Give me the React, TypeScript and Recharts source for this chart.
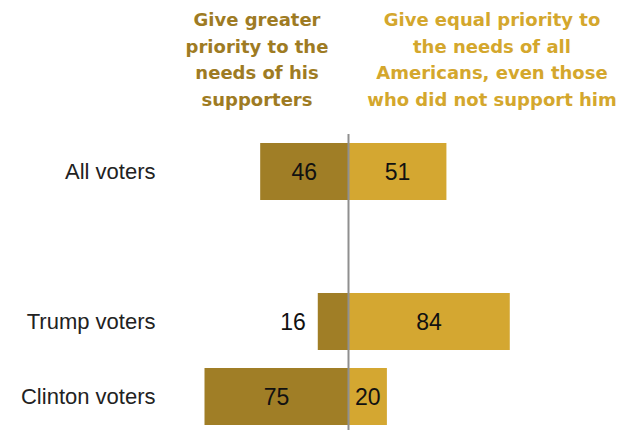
import React from 'react';
import { BarChart, Bar, XAxis, YAxis, ReferenceLine, LabelList } from 'recharts';

// Row labels (empty string = spacer row between "All voters" and the candidate groups)
const groups = ['All voters', '', 'Trump voters', 'Clinton voters'];
// Share saying Trump should give greater priority to his supporters
const greater = [46, null, 16, 75];
// Share saying he should give equal priority to all Americans
const equal = [51, null, 84, 20];

const DARK = '#A07E26';
const LIGHT = '#D4A731';

const data = groups.map((g, i) => ({
  group: g,
  greater: greater[i] == null ? undefined : -(greater[i] as number),
  equal: equal[i] == null ? undefined : equal[i],
}));

const numFont = { fontFamily: '"Liberation Sans", Arial, sans-serif', fontSize: 23, fill: '#111' };

const readValue = (value: any) => {
  if (Array.isArray(value)) return Math.abs(Number(value[1]) - Number(value[0]));
  return Math.abs(Number(value));
};

const makeLabel = (side: 'left' | 'right') => (props: any) => {
  const { x, y, width, height, value } = props;
  if (value == null) return null;
  const v = readValue(value);
  if (!isFinite(v)) return null;
  const left = Math.min(Number(x), Number(x) + Number(width));
  const w = Math.abs(Number(width));
  const inside = w > 34;
  let tx = left + w / 2;
  let anchor: 'middle' | 'end' | 'start' = 'middle';
  if (!inside) {
    if (side === 'left') {
      tx = left - 12;
      anchor = 'end';
    } else {
      tx = left + w + 12;
      anchor = 'start';
    }
  }
  return (
    <text x={tx} y={Number(y) + Number(height) / 2} dy="0.36em" textAnchor={anchor} {...numFont}>
      {v}
    </text>
  );
};

const headerBase: React.CSSProperties = {
  position: 'absolute',
  top: 7,
  fontFamily: '"DejaVu Sans", sans-serif',
  fontWeight: 'bold',
  fontSize: 18,
  lineHeight: '26.7px',
  textAlign: 'center',
};

const App: React.FC = () => {
  return (
    <div
      style={{
        position: 'absolute',
        left: 0,
        top: 0,
        width: 627,
        height: 430,
        overflow: 'hidden',
        background: '#fff',
      }}
    >
      <div style={{ ...headerBase, left: 157, width: 200, color: '#9E7B23' }}>
        Give greater
        <br />
        priority to the
        <br />
        needs of his
        <br />
        supporters
      </div>
      <div style={{ ...headerBase, left: 362, width: 260, color: '#D4A72D' }}>
        Give equal priority to
        <br />
        the needs of all
        <br />
        Americans, even those
        <br />
        who did not support him
      </div>
      <div style={{ position: 'absolute', left: 0, top: 0 }}>
        <BarChart
          width={627}
          height={437}
          data={data}
          layout="vertical"
          stackOffset="sign"
          margin={{ top: 134, right: 86.5, bottom: 3, left: 0 }}
        >
          <XAxis type="number" domain={[-100, 100]} hide />
          <YAxis
            type="category"
            dataKey="group"
            width={156.5}
            axisLine={false}
            tickLine={false}
            tickSize={1}
            tickMargin={0}
            interval={0}
            tick={{ fontFamily: '"Liberation Sans", Arial, sans-serif', fontSize: 22, fill: '#222' }}
          />
          <Bar dataKey="greater" stackId="s" fill={DARK} barSize={57} isAnimationActive={false}>
            <LabelList dataKey="greater" content={makeLabel('left')} />
          </Bar>
          <Bar dataKey="equal" stackId="s" fill={LIGHT} barSize={57} isAnimationActive={false}>
            <LabelList dataKey="equal" content={makeLabel('right')} />
          </Bar>
          <ReferenceLine x={0} stroke="#8f8f8f" strokeWidth={2} />
        </BarChart>
      </div>
    </div>
  );
};

export default App;
